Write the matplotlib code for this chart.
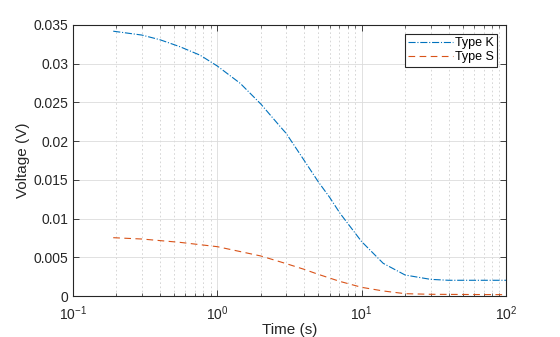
import numpy as np
import matplotlib
matplotlib.use("Agg")
import matplotlib.pyplot as plt
from matplotlib.ticker import LogLocator, FuncFormatter

plt.rcParams['font.family'] = ['Liberation Sans', 'DejaVu Sans']
plt.rcParams['mathtext.fontset'] = 'custom'
plt.rcParams['mathtext.rm'] = 'Liberation Sans'
plt.rcParams['mathtext.it'] = 'Liberation Sans'

time_k = [0.19, 0.3, 0.4, 0.55, 0.76, 1.0, 1.44, 2.0, 2.72, 3.0, 4.0, 5.0, 6.0, 7.08, 10, 14.1, 20, 30, 40, 100]
volt_k = [0.0342, 0.0337, 0.0331, 0.0322, 0.0311, 0.0297, 0.02747, 0.0248, 0.0219, 0.0210,
          0.0175, 0.01476, 0.01274, 0.01068, 0.00702, 0.00422, 0.00271, 0.00215, 0.00203, 0.00203]
time_s = [0.19, 0.3, 0.55, 1.0, 2.0, 3.0, 4.0, 5.0, 7.08, 10, 14.1, 20, 30, 100]
volt_s = [0.00753, 0.00736, 0.00693, 0.00637, 0.00517, 0.00418, 0.00344, 0.0028, 0.00188,
          0.00112, 0.00065, 0.0003, 0.00022, 0.00017]

fig = plt.figure(figsize=(5.6, 3.37), dpi=100)
ax = fig.add_axes([73/560, 1-296/337, 433/560, 271/337])

ax.plot(time_k, volt_k, color='#0072BD', linestyle='-.', linewidth=0.8, label='Type K')
ax.plot(time_s, volt_s, color='#D95319', linestyle=(0, (6, 4)), linewidth=0.8, label='Type S')

ax.set_xscale('log')
ax.set_xlim(0.1, 100)
ax.set_ylim(0, 0.035)
ax.set_xticks([0.1, 1, 10, 100])
ax.set_xticklabels([r'$10^{-1}$', r'$10^{0}$', r'$10^{1}$', r'$10^{2}$'])
ax.xaxis.set_minor_locator(LogLocator(base=10, subs=np.arange(2, 10)))
ax.xaxis.set_minor_formatter(FuncFormatter(lambda v, p: ''))
yt = [0, 0.005, 0.01, 0.015, 0.02, 0.025, 0.03, 0.035]
ax.set_yticks(yt)
ax.set_yticklabels(['0', '0.005', '0.01', '0.015', '0.02', '0.025', '0.03', '0.035'])

ax.grid(True, which='major', color='#dcdcdc', linewidth=0.6, linestyle='-')
ax.grid(True, which='minor', axis='x', color='#d0d0d0', linewidth=0.6, linestyle=(0, (2, 3)))
ax.set_axisbelow(True)

ax.tick_params(which='both', direction='in', top=True, right=True, labelsize=10, colors='#262626')
ax.tick_params(which='major', length=4, width=0.6)
ax.tick_params(which='minor', length=2, width=0.5)
ax.tick_params(axis='x', which='major', pad=6)
for s in ax.spines.values():
    s.set_color('#262626')
    s.set_linewidth(0.8)

ax.set_xlabel('Time (s)', fontsize=11, color='#262626', labelpad=0)
ax.set_ylabel('Voltage (V)', fontsize=11, color='#262626', labelpad=2)

leg = ax.legend(loc='upper right', fontsize=9, frameon=True, fancybox=False,
                edgecolor='#262626', framealpha=1, borderpad=0.25, handlelength=3.6,
                handletextpad=0.2, labelspacing=0.2, borderaxespad=0.7)
leg.get_frame().set_linewidth(0.8)

fig.savefig('out.png', dpi=100)
